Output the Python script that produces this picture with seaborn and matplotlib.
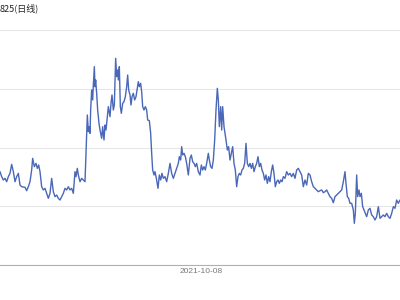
import matplotlib
matplotlib.use("Agg")
import matplotlib.pyplot as plt
import seaborn as sns
import pandas as pd
import numpy as np

title = "825(日线)"
start_date = "2020-02-13"
tick_dates = ["2021-10-08"]

# calendar-day offsets from start_date
day_offset = [
    0, 5, 10, 15, 20, 25, 30, 35, 40, 45, 50, 55, 60, 65, 75, 80, 85, 90, 95, 98,
    103, 108, 112, 116, 120, 125, 130, 135, 140, 145, 150, 155, 160, 165, 170, 175,
    180, 185, 190, 195, 200, 205, 210, 215, 220, 225, 228, 232, 235, 240, 245, 250, 255,
    258, 262, 265, 268, 270, 272, 275, 278, 280, 283, 285, 287, 290, 293, 297, 300,
    305, 308, 312, 315, 318, 322, 325, 330, 333, 336, 340, 343, 347, 350, 353, 355,
    358, 361, 364, 368, 372, 376, 380, 383, 386, 390, 393, 396, 400, 404, 408, 412,
    415, 418, 422, 425, 428, 432, 436, 440, 443, 448, 452, 455, 458, 462, 465, 470, 474,
    478, 482, 486, 490, 495, 500, 505, 510, 515, 520, 525, 530, 535, 538, 542, 545,
    548, 552, 556, 560, 565, 570, 574, 578, 582, 586, 590, 595, 600, 604, 608, 612,
    616, 620, 625, 628, 632, 636, 640, 644, 648, 652, 655, 658, 662, 665, 668, 672,
    675, 678, 682, 686, 690, 694, 698, 702, 706, 710, 714, 718, 722, 726, 730, 734,
    738, 742, 746, 750, 754, 758, 762, 766, 770, 774, 778, 782, 786, 790, 794, 798,
    802, 806, 810, 814, 818, 822, 826, 830, 834, 838, 842, 846, 850, 855, 860, 865,
    870, 875, 880, 885, 890, 895, 900, 905, 910, 915, 920, 925, 930, 935, 940, 945,
    950, 955, 960, 965, 970, 975, 980, 985, 990, 995, 1000, 1005, 1010, 1015, 1020,
    1025, 1030, 1035, 1038, 1042, 1046, 1050, 1055, 1060, 1063, 1066, 1070, 1073,
    1077, 1080, 1084, 1088, 1092, 1096, 1100, 1105, 1110, 1115, 1120, 1125, 1130,
    1135, 1140, 1145, 1150, 1155, 1160, 1165, 1170, 1175, 1180, 1185, 1190, 1195, 1200,
]

close = [
    15.89, 15.04, 14.47, 14.75, 14.18, 15.04, 15.60, 17.13, 15.89, 14.18, 15.04, 15.60,
    13.62, 13.33, 13.22, 12.65, 13.33, 14.18, 16.17, 18.16, 16.74, 17.30, 16.45, 17.02,
    15.89, 13.33, 12.77, 13.05, 12.20, 11.35, 12.20, 14.75, 12.48, 11.63, 11.91, 11.35,
    11.06, 11.63, 12.20, 13.05, 12.77, 13.33, 12.77, 13.05, 12.20, 15.89, 15.04, 16.45,
    15.32, 14.18, 14.75, 14.47, 14.18,
    19.01, 25.53, 22.70, 23.55, 22.41, 26.38, 29.79, 28.09, 30.64, 33.76, 30.35, 31.49,
    29.22, 26.38, 24.11, 22.98, 21.56, 23.55, 21.28, 23.83, 22.98, 25.25, 26.95, 25.25,
    27.52, 28.94, 26.38, 27.23, 35.18, 32.06, 33.19, 31.49, 33.76, 26.95, 25.82, 27.52,
    27.80, 28.65, 30.35, 32.34, 29.79, 28.94, 27.23, 28.65, 29.22, 28.09, 28.65, 30.07,
    31.21, 30.35, 30.92, 29.50, 26.95, 26.38, 26.95, 26.38, 24.68, 24.57, 22.41, 19.01,
    16.17, 15.32, 15.89, 14.47, 13.05,
    15.32, 14.47, 15.60, 14.75, 15.04, 14.18, 15.60, 17.30, 15.60, 14.75, 15.60, 16.45,
    17.30, 18.44, 17.87, 20.14, 18.72, 19.01, 18.44, 17.30, 15.32, 18.16, 18.72, 17.59,
    17.30, 16.74, 17.30, 15.89, 15.32, 17.02, 16.17, 16.74, 16.17, 17.30, 19.01, 17.87,
    16.74, 16.45, 17.87, 21.28, 26.38, 30.07, 28.09, 23.55, 26.95, 22.98, 26.95, 23.55,
    22.41, 21.28, 19.57, 20.14, 17.87, 19.01, 20.14, 17.30, 16.17, 13.33, 15.04, 15.60,
    15.32, 16.17, 16.45, 17.30, 20.71, 17.30, 16.74, 17.30, 16.45, 17.30, 15.89, 16.74,
    17.30, 18.44, 16.74, 17.30, 16.17, 15.60, 14.47, 15.32, 13.90, 15.04, 14.18, 15.89,
    17.02, 15.60, 13.33, 14.18, 14.47, 13.90, 14.47, 14.18, 15.04, 14.75, 15.89, 15.32,
    15.60, 15.04, 15.60, 14.75, 16.17, 16.45, 15.89, 15.32, 13.33, 14.47, 13.62, 15.60,
    15.32, 14.18, 13.33, 13.05, 12.77, 12.48, 12.65, 12.77, 12.31, 12.48, 12.77, 12.20,
    11.63, 11.35, 10.61, 11.63, 11.91, 12.20, 12.48, 12.77, 14.18, 15.89, 13.90, 11.63,
    11.35, 10.50, 10.50, 9.36, 7.09, 8.79, 15.32, 11.63, 12.77, 11.63, 12.20, 9.93,
    9.36, 8.79, 8.23, 9.36, 9.65, 8.51, 8.23, 7.66, 8.23, 9.93, 7.94, 8.23, 8.51, 8.23,
    8.79, 8.23, 7.94, 8.79, 9.93, 9.65, 11.06, 10.50, 11.06,
]

y_ticks = [0, 10, 20, 30, 40]

start = pd.Timestamp(start_date)
df = pd.DataFrame({
    "date": [start + pd.Timedelta(days=d) for d in day_offset],
    "close": close,
})

sns.set_theme(style="white")
plt.rcParams["font.family"] = ["Liberation Sans", "DejaVu Sans"]

fig = plt.figure(figsize=(4, 3), dpi=100)
H = 300.0
top_pad = 40.5 / 40.0
ax = fig.add_axes([0, 35 / H, 1, 235 * top_pad / H])

sns.lineplot(data=df, x="date", y="close", ax=ax, color="#4a67b8", linewidth=1.0)

ax.set_xlim(df["date"].iloc[0], df["date"].iloc[-1])
ax.set_ylim(0, 40.5)
ax.set_yticks(y_ticks)
ax.set_yticklabels([])
ax.yaxis.grid(True, color="#e6e6e6", linewidth=0.75)
ax.xaxis.grid(False)
ax.set_xticks([pd.Timestamp(t) for t in tick_dates])
ax.set_xticklabels(tick_dates, fontsize=6, color="#777777")
ax.tick_params(axis="both", length=0)
ax.tick_params(axis="x", pad=2.5)
ax.set_xlabel("")
ax.set_ylabel("")
for s in ["top", "left", "right"]:
    ax.spines[s].set_visible(False)
ax.spines["bottom"].set_color("#b0b0b0")
ax.spines["bottom"].set_linewidth(0.8)

fig.text(0.0, 1 - 8 / H, title, ha="left", va="center", fontsize=6.5,
         color="#222222", fontweight="medium",
         family=["Noto Sans CJK SC", "DejaVu Sans"])

fig.savefig("out.png", dpi=100)
